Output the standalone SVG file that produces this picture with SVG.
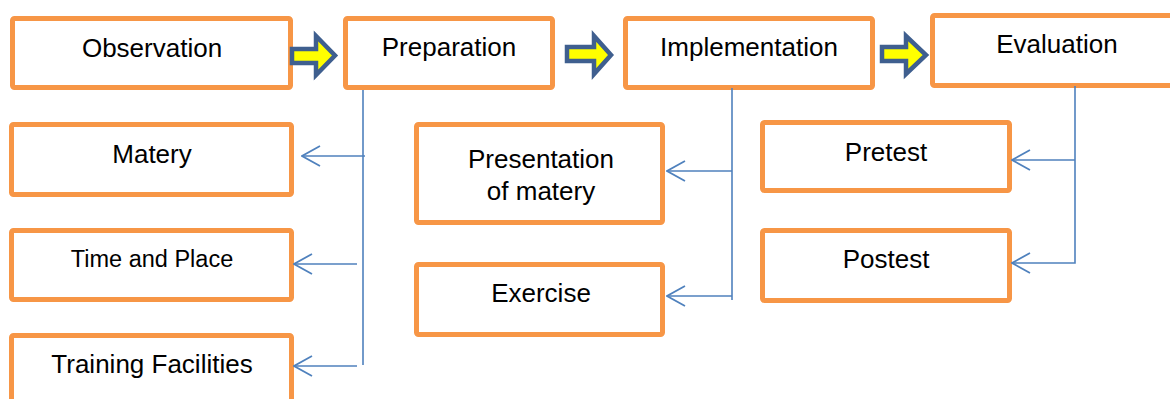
<svg xmlns="http://www.w3.org/2000/svg" width="1170" height="399" viewBox="0 0 1170 399">
<defs>
<style>
.box{fill:#fff;stroke:#F79646;stroke-width:5}
.t{font-family:"Liberation Sans",Arial,sans-serif;font-size:26px;fill:#000;text-anchor:middle}
.conn{fill:none;stroke:#4F81BD;stroke-width:1.6}
.blk{fill:#FFFF00;stroke:#3F5F8F;stroke-width:4.5;stroke-linejoin:miter}
</style>
<marker id="ah" viewBox="0 0 20 22" refX="19" refY="11" markerWidth="20" markerHeight="22" markerUnits="userSpaceOnUse" orient="auto">
<path d="M1,1 L19,11 L1,21" fill="none" stroke="#4F81BD" stroke-width="1.8"/>
</marker>
</defs>
<rect width="1170" height="399" fill="#fff"/>
<g id="observation"><rect class="box" x="12.5" y="18.5" width="278" height="69" rx="2"/><text class="t" x="152" y="57">Observation</text></g>
<g id="preparation"><rect class="box" x="345.5" y="18.5" width="207" height="69" rx="2"/><text class="t" x="449" y="56">Preparation</text></g>
<g id="implementation"><rect class="box" x="625.5" y="18.5" width="247" height="69" rx="2"/><text class="t" x="749" y="56">Implementation</text></g>
<g id="evaluation"><rect class="box" x="932.5" y="15.5" width="250" height="70" rx="2"/><text class="t" x="1057" y="53">Evaluation</text></g>
<g id="matery"><rect class="box" x="11.5" y="124.5" width="280" height="70" rx="2"/><text class="t" x="152" y="163">Matery</text></g>
<g id="time-place"><rect class="box" x="11.5" y="230.5" width="280" height="69" rx="2"/><text class="t" x="152" y="267" style="font-size:23.5px">Time and Place</text></g>
<g id="training"><rect class="box" x="11.5" y="335.5" width="280" height="80" rx="2"/><text class="t" x="152" y="373">Training Facilities</text></g>
<g id="presentation"><rect class="box" x="416.5" y="124.5" width="246" height="98" rx="2"/><text class="t" x="541" y="168">Presentation</text><text class="t" x="541" y="200">of matery</text></g>
<g id="exercise"><rect class="box" x="416.5" y="264.5" width="246" height="70" rx="2"/><text class="t" x="541" y="302">Exercise</text></g>
<g id="pretest"><rect class="box" x="762.5" y="122.5" width="247" height="68" rx="2"/><text class="t" x="886" y="161">Pretest</text></g>
<g id="postest"><rect class="box" x="762.5" y="230.5" width="247" height="70" rx="2"/><text class="t" x="886" y="268">Postest</text></g>
<g id="connectors">
<path class="blk" d="M292,49 L316,49 L316,36 L335,55.5 L316,75 L316,63 L292,63 Z"/>
<path class="blk" d="M567,47 L594,47 L594,36 L611,55 L594,74 L594,61 L567,61 Z"/>
<path class="blk" d="M882,47 L906,47 L906,36 L926,55 L906,74 L906,61 L882,61 Z"/>
<path class="conn" d="M363,90 V365"/>
<path class="conn" d="M365,156 H302" marker-end="url(#ah)"/>
<path class="conn" d="M357,264 H294" marker-end="url(#ah)"/>
<path class="conn" d="M357,366 H294" marker-end="url(#ah)"/>
<path class="conn" d="M732,88 V300"/>
<path class="conn" d="M732,171 H667" marker-end="url(#ah)"/>
<path class="conn" d="M732,296 H667" marker-end="url(#ah)"/>
<path class="conn" d="M1075,86 V263 H1012" marker-end="url(#ah)"/>
<path class="conn" d="M1075,160 H1012" marker-end="url(#ah)"/>
</g>
</svg>
